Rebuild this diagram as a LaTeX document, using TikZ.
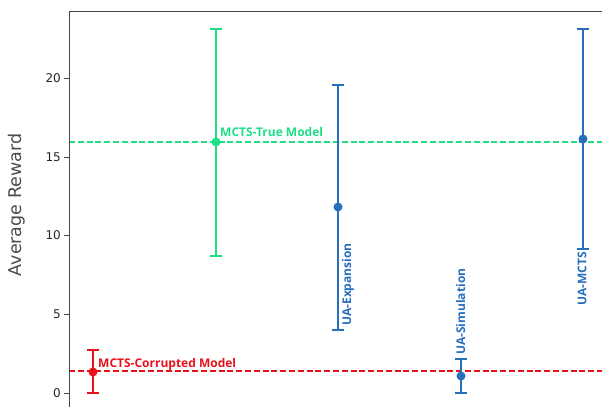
\documentclass[tikz,border=0pt]{standalone}
\usepackage{fontspec}
\setmainfont{DejaVu Sans}
\newfontfamily\lblfont{Open Sans}
\definecolor{cgreen}{RGB}{30,222,134}
\definecolor{cblue}{RGB}{40,110,190}
\definecolor{cred}{RGB}{232,16,26}
\definecolor{spine}{RGB}{70,70,70}
\tikzset{
  spineline/.style={draw=spine, line width=1pt},
  tickline/.style={draw=spine, line width=0.8pt},
  ticklbl/.style={anchor=east, inner sep=0pt, font=\fontsize{12}{12}\selectfont, text=black!85},
  refline/.style={line width=1.5pt, dash pattern=on 6pt off 2.8pt},
  ebar/.style={line width=1.5pt},
  dot/.style={circle, inner sep=0pt, minimum size=9pt},
  serlbl/.style={inner sep=0pt, font=\lblfont\bfseries\fontsize{12}{12}\selectfont},
}
\begin{document}
\begin{tikzpicture}[x=1pt,y=-1pt]
\useasboundingbox (0,0) rectangle (602,407);
% reference lines
\draw[refline, cgreen] (69,142) -- (602,142);
\draw[refline, cred] (69,371) -- (602,371);
% spines
\draw[spineline] (69,407) -- (69,11) -- (602,11);
% ticks
\foreach \v/\yy in {0/393,5/314.3,10/235.6,15/156.9,20/78.2}{
  \draw[tickline] (64,\yy) -- (69,\yy);
  \node[ticklbl] (t\v) at (61,\yy) {\v};
}
\node[rotate=90, inner sep=0pt, text=black!70, font=\fontsize{17.5}{17.5}\selectfont] (ylab) at (17,205) {Average Reward};
% error bars: x, mean, top, bottom, colour
\foreach \n/\x/\m/\t/\b/\c in {cor/93/372/350/393/cred, tru/216/142/29/256/cgreen, exp/338/207/85/330/cblue, sim/461/376/359/393/cblue, ua/583/139/29/249/cblue}{
  \coordinate (\n top) at (\x,\t);
  \coordinate (\n bot) at (\x,\b);
  \draw[ebar, \c] (\n top) -- (\n bot);
  \draw[ebar, \c] ([xshift=-6pt]\n top) -- ([xshift=6pt]\n top);
  \draw[ebar, \c] ([xshift=-6pt]\n bot) -- ([xshift=6pt]\n bot);
  \node[dot, fill=\c] (\n) at (\x,\m) {};
}
% labels
\node[serlbl, text=cred, anchor=base west] (lcor) at (98,367) {MCTS-Corrupted Model};
\node[serlbl, text=cgreen, anchor=base west] (ltru) at (220,136) {MCTS-True Model};
\node[serlbl, text=cblue, rotate=90, anchor=west] (lexp) at (348,326) {UA-Expansion};
\node[serlbl, text=cblue, rotate=90, anchor=west] (lsim) at (460.5,355) {UA-Simulation};
\node[serlbl, text=cblue, rotate=90, anchor=east] (lua) at (582,252) {UA-MCTS};
\end{tikzpicture}
\end{document}
